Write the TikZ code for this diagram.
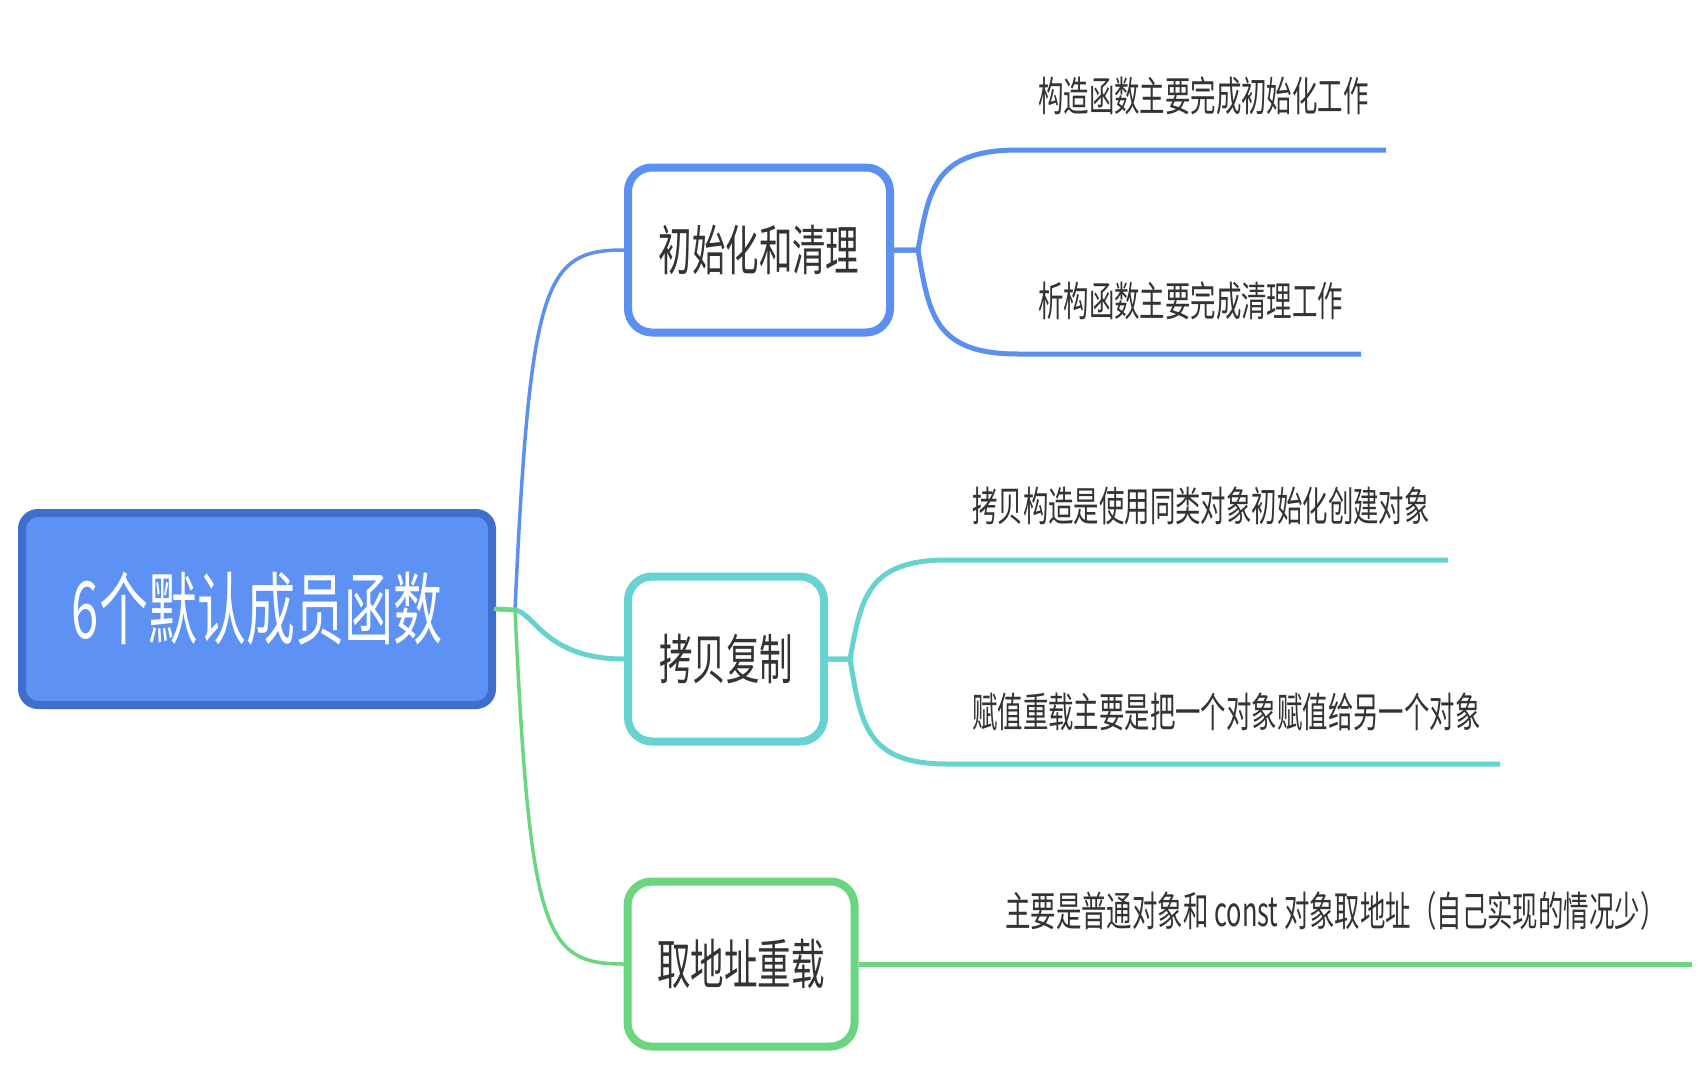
\documentclass[tikz,border=0pt]{standalone}
\usepackage{fontspec}
\newfontfamily\cjk[FakeStretch=0.62]{Noto Sans CJK SC}
\definecolor{rootfill}{HTML}{5E91F4}
\definecolor{rootedge}{HTML}{3F6ECC}
\definecolor{mapblue}{HTML}{5B8FF0}
\definecolor{mapcyan}{HTML}{66D3D0}
\definecolor{mapgreen}{HTML}{6AD680}
\definecolor{maptext}{HTML}{333333}

\begin{document}
\begin{tikzpicture}[x = 1pt, y = -1pt]
\tikzstyle{RootStyle}=[draw = rootedge, fill = rootfill, line width = 8pt,
                       rounded corners = 16pt,
                       minimum width = 470pt, minimum height = 192pt,
                       text = white, font = \cjk\fontsize{79}{80}\selectfont]
\tikzstyle{ChildStyle}=[draw, fill = white, line width = 8pt,
                        rounded corners = 24pt, minimum height = 165pt,
                        text = maptext, font = \cjk\fontsize{54}{56}\selectfont]
\tikzstyle{LeafStyle}=[anchor = west, inner sep = 0pt,
                       text = maptext, font = \cjk\fontsize{41}{42}\selectfont]
\tikzstyle{RootEdge}=[line width = 3.5pt, line cap = round]
\tikzstyle{LeafEdge}=[line width = 5pt]
\useasboundingbox (0,0) rectangle (1708,1092);
\node[RootStyle] (root) at (257,609) {6个默认成员函数};
\node[ChildStyle, draw = mapblue, minimum width = 262pt] (init) at (759,250) {初始化和清理};
\node[ChildStyle, draw = mapcyan, minimum width = 196pt] (copy) at (726,659) {拷贝复制};
\node[ChildStyle, draw = mapgreen, minimum width = 227pt] (addr) at (741,964) {取地址重载};
\node[LeafStyle] (ctor) at (1038,96) {构造函数主要完成初始化工作};
\node[LeafStyle] (dtor) at (1038,301) {析构函数主要完成清理工作};
\node[LeafStyle] (cpyc) at (972,506) {拷贝构造是使用同类对象初始化创建对象};
\node[LeafStyle] (asgn) at (972,712) {赋值重载主要是把一个对象赋值给另一个对象};
\node[LeafStyle] (take) at (1005,911) {主要是普通对象和 const 对象取地址（自己实现的情况少）};
\coordinate (b0) at (515,610);
\coordinate (u1) at (1018,150);
\coordinate (u1e) at (1386,150);
\coordinate (d1) at (1018,354);
\coordinate (d1e) at (1361,354);
\coordinate (u2) at (947,560);
\coordinate (u2e) at (1448,560);
\coordinate (d2) at (947,764);
\coordinate (d2e) at (1500,764);
\coordinate (a3e) at (1692,964);
\draw[RootEdge, mapblue] (root.east) -- (b0) .. controls (530,280) and (545,250) .. (init.west);
\draw[RootEdge, mapcyan, line width = 5pt] (root.east) -- (b0) .. controls (535,613) and (545,659) .. (copy.west);
\draw[RootEdge, mapgreen] (root.east) -- (b0) .. controls (530,935) and (545,964) .. (addr.west);
\draw[LeafEdge, mapblue] (init.east) -- ++(24,0) .. controls (929,190) and (934,150) .. (u1) -- (u1e);
\draw[LeafEdge, mapblue] (init.east) -- ++(24,0) .. controls (929,314) and (934,354) .. (d1) -- (d1e);
\draw[LeafEdge, mapcyan] (copy.east) -- ++(22,0) .. controls (861,600) and (866,560) .. (u2) -- (u2e);
\draw[LeafEdge, mapcyan] (copy.east) -- ++(22,0) .. controls (861,724) and (866,764) .. (d2) -- (d2e);
\draw[LeafEdge, mapgreen] (addr.east) -- (a3e);
\end{tikzpicture}
\end{document}
